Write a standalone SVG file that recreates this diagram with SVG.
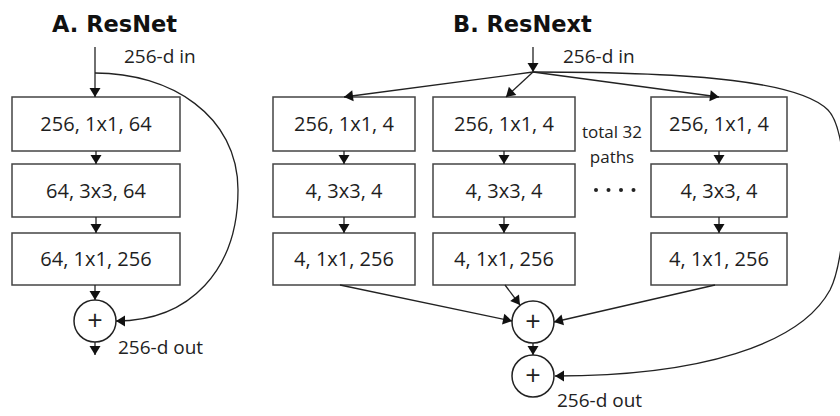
<svg xmlns="http://www.w3.org/2000/svg" width="840" height="416" viewBox="0 0 840 416">
  <style>
    .title { font-family: "DejaVu Sans", sans-serif; font-weight: bold; font-size: 22.5px; fill: #111; }
    .box rect { fill: #fff; stroke: #444; stroke-width: 1.5; }
    .box text { font-family: "Open Sans", "Liberation Sans", sans-serif; font-size: 20px; fill: #1e1e1e; text-anchor: middle; }
    .lbl { font-family: "Open Sans", "Liberation Sans", sans-serif; font-size: 19px; fill: #222; }
    .note { font-family: "Open Sans", "Liberation Sans", sans-serif; font-size: 17px; fill: #222; text-anchor: middle; }
    .sum circle { fill: #fff; stroke: #222; stroke-width: 1.5; }
    .sum text { font-family: "Open Sans", "Liberation Sans", sans-serif; font-size: 27px; fill: #222; text-anchor: middle; }
    .conn path { fill: none; stroke: #222; stroke-width: 1.3; marker-end: url(#arrow); }
  </style>
  <defs>
    <marker id="arrow" markerUnits="userSpaceOnUse" markerWidth="12" markerHeight="12" viewBox="0 0 12 12" refX="11" refY="6" orient="auto">
      <path d="M2,0.5 L11,6 L2,11.5 Z" fill="#111"/>
    </marker>
  </defs>
  <rect width="840" height="416" fill="#fff"/>

  <!-- headings -->
  <text class="title" x="52" y="32">A. ResNet</text>
  <text class="title" x="453" y="32">B. ResNext</text>

  <!-- A: bottleneck block -->
  <g id="a-in"><text class="lbl" x="124" y="63">256-d in</text></g>
  <g id="a-conv1" class="box"><rect x="12" y="97" width="168" height="54"/><text x="96" y="131">256, 1x1, 64</text></g>
  <g id="a-conv2" class="box"><rect x="12" y="164" width="168" height="53"/><text x="96" y="198">64, 3x3, 64</text></g>
  <g id="a-conv3" class="box"><rect x="12" y="233" width="168" height="52"/><text x="96" y="266">64, 1x1, 256</text></g>
  <g id="a-sum" class="sum"><circle cx="95" cy="321" r="21"/><text x="95" y="330">+</text></g>
  <g id="a-out"><text class="lbl" x="118" y="354">256-d out</text></g>

  <!-- B: aggregated transform block -->
  <g id="b-in"><text class="lbl" x="563" y="63">256-d in</text></g>
  <g id="b-p1-conv1" class="box"><rect x="273" y="97" width="142" height="54"/><text x="344" y="131">256, 1x1, 4</text></g>
  <g id="b-p1-conv2" class="box"><rect x="273" y="164" width="142" height="53"/><text x="344" y="198">4, 3x3, 4</text></g>
  <g id="b-p1-conv3" class="box"><rect x="273" y="233" width="142" height="52"/><text x="344" y="266">4, 1x1, 256</text></g>
  <g id="b-p2-conv1" class="box"><rect x="433" y="97" width="142" height="54"/><text x="504" y="131">256, 1x1, 4</text></g>
  <g id="b-p2-conv2" class="box"><rect x="433" y="164" width="142" height="53"/><text x="504" y="198">4, 3x3, 4</text></g>
  <g id="b-p2-conv3" class="box"><rect x="433" y="233" width="142" height="52"/><text x="504" y="266">4, 1x1, 256</text></g>
  <g id="b-p32-conv1" class="box"><rect x="651" y="97" width="136" height="54"/><text x="719" y="131">256, 1x1, 4</text></g>
  <g id="b-p32-conv2" class="box"><rect x="651" y="164" width="136" height="53"/><text x="719" y="198">4, 3x3, 4</text></g>
  <g id="b-p32-conv3" class="box"><rect x="651" y="233" width="136" height="52"/><text x="719" y="266">4, 1x1, 256</text></g>
  <g id="b-paths">
    <text class="note" x="612" y="138">total 32</text>
    <text class="note" x="612" y="163">paths</text>
    <g fill="#222">
      <circle cx="596" cy="190" r="2"/><circle cx="608.5" cy="190" r="2"/>
      <circle cx="621" cy="190" r="2"/><circle cx="633.5" cy="190" r="2"/>
    </g>
  </g>
  <g id="b-sum1" class="sum"><circle cx="533" cy="322" r="21"/><text x="533" y="331">+</text></g>
  <g id="b-sum2" class="sum"><circle cx="533" cy="376" r="21"/><text x="533" y="385">+</text></g>
  <g id="b-out"><text class="lbl" x="557" y="407">256-d out</text></g>

  <!-- connectors -->
  <g id="connectors" class="conn">
    <!-- A -->
    <path d="M95,47 L95,97"/>
    <path d="M96,151 L96,164"/>
    <path d="M96,217 L96,233"/>
    <path d="M95,285 L95,300"/>
    <path d="M95,342 L95,355"/>
    <path d="M95,73 C170,73 238,115 238,190 C238,270 190,321 116,321"/>
    <!-- B: split -->
    <path d="M533,47 L533,72"/>
    <path d="M533,72 L344,97"/>
    <path d="M533,72 L506,97"/>
    <path d="M533,72 L719,97"/>
    <!-- B: per-path chains -->
    <path d="M344,151 L344,164"/>
    <path d="M344,217 L344,233"/>
    <path d="M504,151 L504,164"/>
    <path d="M504,217 L504,233"/>
    <path d="M719,151 L719,164"/>
    <path d="M719,217 L719,233"/>
    <!-- B: merge -->
    <path d="M340,285 L512,321"/>
    <path d="M505,285 L520,305"/>
    <path d="M715,285 L554,322"/>
    <path d="M533,343 L533,355"/>
    <path d="M533,72 C700,72 800,82 828,110 C852,135 848,255 830,290 C800,345 700,376 555,376"/>
  </g>
</svg>
